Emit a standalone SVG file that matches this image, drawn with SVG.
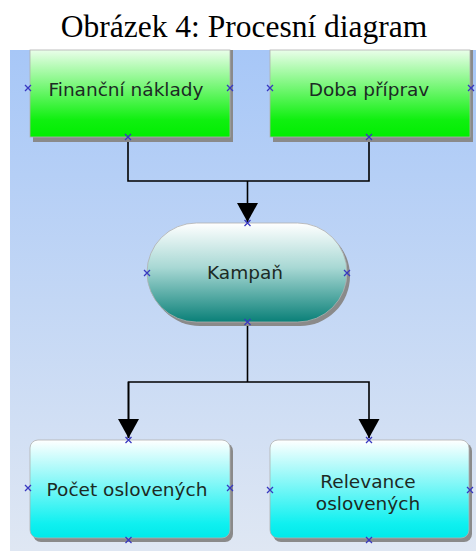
<svg xmlns="http://www.w3.org/2000/svg" width="476" height="551" viewBox="0 0 476 551">
  <defs>
    <linearGradient id="bg" x1="0" y1="0" x2="0" y2="1">
      <stop offset="0" stop-color="#a7c7f7"/>
      <stop offset="1" stop-color="#dfe7f3"/>
    </linearGradient>
    <linearGradient id="green" x1="0" y1="0" x2="0" y2="1">
      <stop offset="0" stop-color="#eafeea"/>
      <stop offset="0.8" stop-color="#10f010"/>
      <stop offset="1" stop-color="#00ee00"/>
    </linearGradient>
    <linearGradient id="teal" x1="0" y1="0" x2="0" y2="1">
      <stop offset="0" stop-color="#ffffff"/>
      <stop offset="0.45" stop-color="#a8d8d4"/>
      <stop offset="1" stop-color="#0a8078"/>
    </linearGradient>
    <linearGradient id="cyan" x1="0" y1="0" x2="0" y2="1">
      <stop offset="0" stop-color="#ffffff"/>
      <stop offset="0.85" stop-color="#10f0f0"/>
      <stop offset="1" stop-color="#00eaea"/>
    </linearGradient>
    <marker id="arrow" viewBox="0 -11 20 22" refX="19" refY="0" markerWidth="20" markerHeight="22" markerUnits="userSpaceOnUse" orient="auto">
      <path d="M0,-10.5 L19,0 L0,10.5 z" fill="#000"/>
    </marker>
    <g id="x">
      <path d="M-3,-3 L3,3 M-3,3 L3,-3" stroke="#3838c0" stroke-width="1.3" fill="none"/>
    </g>
  </defs>
  <style>
    .title { font-family: "Liberation Serif", "Times New Roman", serif; font-size: 31.5px; fill: #000; }
    .label { font-family: "DejaVu Sans", "Noto Sans", sans-serif; font-size: 18.5px; fill: #1c2a24; }
    .shadow { fill: #8a8a8a; }
    .edge { stroke: #b0b0b0; stroke-width: 0.8; }
    .link { stroke: #000; stroke-width: 1.6; fill: none; }
  </style>

  <rect x="0" y="0" width="476" height="551" fill="#fff"/>
  <text class="title" x="244" y="37" text-anchor="middle">Obrázek 4: Procesní diagram</text>

  <!-- drawing canvas -->
  <rect x="10" y="50" width="466" height="501" fill="url(#bg)"/>

  <g id="connectors">
    <polyline class="link" points="128,137 128,181 369,181 369,137"/>
    <line class="link" x1="247.5" y1="181" x2="247.5" y2="222" marker-end="url(#arrow)"/>
    <line class="link" x1="247.5" y1="322" x2="247.5" y2="382"/>
    <polyline class="link" points="128.5,438 128.5,382 369,382 369,438" marker-end="url(#arrow)"/>
    <line class="link" x1="128.5" y1="382" x2="128.5" y2="438" marker-end="url(#arrow)"/>
  </g>

  <g id="financni-naklady">
    <rect class="shadow" x="33" y="50" width="200" height="92"/>
    <rect class="edge" x="30" y="50" width="200" height="87" fill="url(#green)"/>
    <text class="label" x="126" y="96" text-anchor="middle">Finanční náklady</text>
    <use href="#x" x="28" y="88"/>
    <use href="#x" x="230" y="88"/>
    <use href="#x" x="128" y="137"/>
  </g>

  <g id="doba-priprav">
    <rect class="shadow" x="273" y="50" width="200" height="92"/>
    <rect class="edge" x="270" y="50" width="200" height="87" fill="url(#green)"/>
    <text class="label" x="369" y="96" text-anchor="middle">Doba příprav</text>
    <use href="#x" x="270" y="88"/>
    <use href="#x" x="471" y="88"/>
    <use href="#x" x="369" y="137"/>
  </g>

  <g id="kampan">
    <rect class="shadow" x="150" y="226" width="200" height="100" rx="50"/>
    <rect class="edge" x="147" y="223" width="200" height="99" rx="49.5" fill="url(#teal)"/>
    <text class="label" x="245" y="279" text-anchor="middle">Kampaň</text>
    <use href="#x" x="147" y="273"/>
    <use href="#x" x="347" y="273"/>
    <use href="#x" x="247.5" y="223"/>
    <use href="#x" x="247.5" y="322"/>
  </g>

  <g id="pocet-oslovenych">
    <rect class="shadow" x="33" y="443" width="200" height="99" rx="8"/>
    <rect class="edge" x="30" y="440" width="200" height="98" rx="8" fill="url(#cyan)"/>
    <text class="label" x="127" y="496" text-anchor="middle">Počet oslovených</text>
    <use href="#x" x="28" y="488"/>
    <use href="#x" x="230" y="488"/>
    <use href="#x" x="128.5" y="440"/>
    <use href="#x" x="128.5" y="540"/>
  </g>

  <g id="relevance-oslovenych">
    <rect class="shadow" x="273" y="443" width="199" height="99" rx="8"/>
    <rect class="edge" x="270" y="440" width="199" height="98" rx="8" fill="url(#cyan)"/>
    <text class="label" x="368" y="488" text-anchor="middle">Relevance</text>
    <text class="label" x="368" y="510" text-anchor="middle">oslovených</text>
    <use href="#x" x="270" y="490"/>
    <use href="#x" x="470" y="490"/>
    <use href="#x" x="369" y="440"/>
    <use href="#x" x="369" y="540"/>
  </g>
</svg>
